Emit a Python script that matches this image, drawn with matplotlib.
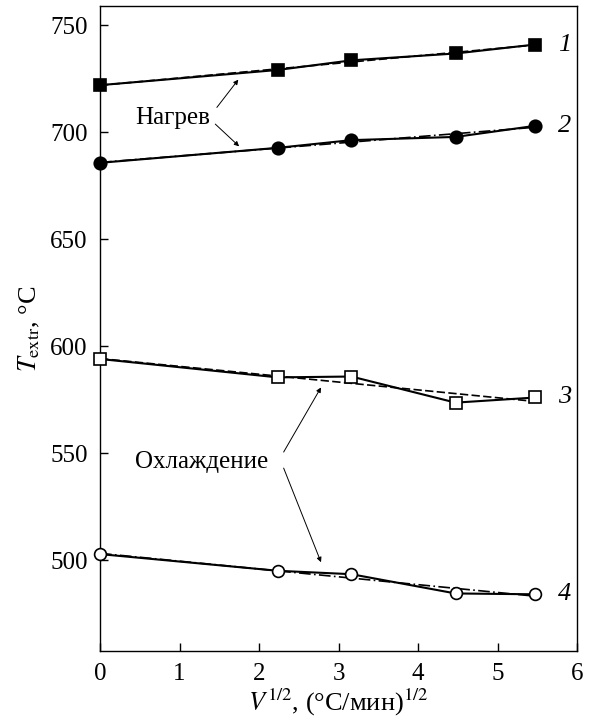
import numpy as np
import matplotlib

matplotlib.use("Agg")
import matplotlib.pyplot as plt

plt.rcParams["font.family"] = ["Liberation Serif", "DejaVu Serif"]
plt.rcParams["mathtext.fontset"] = "stix"

# V^1/2 для скоростей 0, 5, 10, 20, 30 °C/мин
x = np.sqrt([0, 5, 10, 20, 30])
t1 = [722, 729.1, 733.6, 736.8, 741.0]   # нагрев, квадраты
t2 = [685.7, 692.7, 696.3, 697.8, 703.0]  # нагрев, круги
t3 = [594.0, 585.4, 585.8, 573.6, 576.0]  # охлаждение, квадраты
t4 = [502.8, 495.0, 493.4, 484.4, 484.0]  # охлаждение, круги
curve_labels = ["1", "2", "3", "4"]

fig = plt.figure(figsize=(6.01, 7.23), dpi=100)
ax = fig.add_axes([100 / 601, 1 - 651 / 723, 477 / 601, 645 / 723])

series = [
    (t1, "s", "black", (0, (5, 2))),
    (t2, "o", "black", (0, (7, 2, 1, 2))),
    (t3, "s", "white", (0, (5, 2))),
    (t4, "o", "white", (0, (7, 2, 1, 2))),
]
for y, mk, face, ls in series:
    k, b = np.polyfit(x, y, 1)
    xf = np.array([x[0], x[-1]])
    ax.plot(xf, k * xf + b, color="black", lw=1.2, ls=ls, zorder=2)
    ms = 9 if face == "black" else 8.5
    ax.plot(x, y, color="black", lw=1.5, marker=mk, ms=ms, mfc=face,
            mec="black", mew=1.2, zorder=3, clip_on=False)

for y, lab in zip([t1, t2, t3, t4], curve_labels):
    ax.text(5.76, y[-1], lab, fontsize=19, style="italic", va="center", ha="left")

arrow = dict(arrowstyle="-|>", lw=0.7, color="black", mutation_scale=7,
             shrinkA=0, shrinkB=0)
ax.text(0.91, 706.5, "Нагрев", fontsize=18, ha="center", va="center")
ax.annotate("", xy=(1.74, 724.6), xytext=(1.47, 711.6), arrowprops=arrow)
ax.annotate("", xy=(1.75, 693.4), xytext=(1.45, 703.8), arrowprops=arrow)

ax.text(1.28, 546, "Охлаждение", fontsize=18, ha="center", va="center")
ax.annotate("", xy=(2.78, 580.7), xytext=(2.31, 550.5), arrowprops=arrow)
ax.annotate("", xy=(2.78, 499), xytext=(2.31, 543), arrowprops=arrow)

ax.set_xlim(0, 6)
ax.set_ylim(457.5, 759)
ax.set_xticks(range(0, 7))
ax.set_yticks(range(500, 751, 50))
ax.tick_params(direction="in", length=6, width=1, labelsize=18, pad=9,
               top=False, right=False)
for s in ax.spines.values():
    s.set_linewidth(1)

ax.set_xlabel(r"$V^{1/2}$, (°C/мин)$^{1/2}$", fontsize=19, labelpad=1)
ax.set_ylabel(r"$T_{\rm extr}$, °C", fontsize=19, labelpad=6)

fig.savefig("out.png", dpi=100)
